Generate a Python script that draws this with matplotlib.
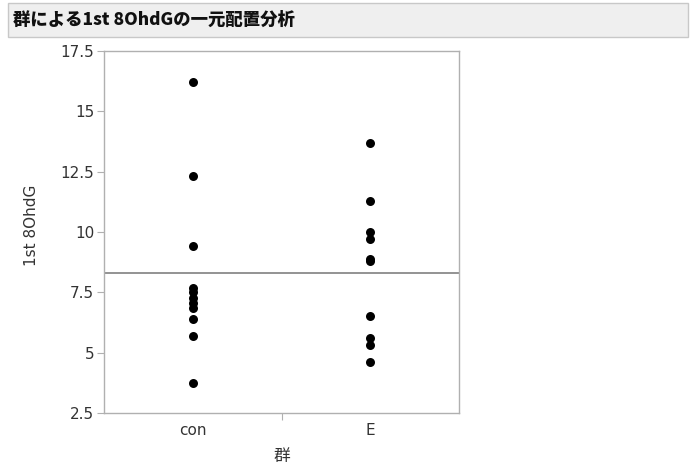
import matplotlib
matplotlib.use("Agg")
import matplotlib.pyplot as plt
from matplotlib.patches import Rectangle
import numpy as np

plt.rcParams['font.family'] = ['DejaVu Sans', 'Noto Sans CJK JP']

title = "群による1st 8OhdGの一元配置分析"
groups = ["con", "E"]
con_values = [16.2, 12.3, 9.4, 7.7, 7.5, 7.25, 7.05, 6.85, 6.4, 5.7, 3.75]
e_values = [13.7, 11.3, 10.0, 9.7, 8.9, 8.8, 6.5, 5.6, 5.3, 4.6]
y_ticks = [2.5, 5, 7.5, 10, 12.5, 15, 17.5]
y_tick_labels = ["2.5", "5", "7.5", "10", "12.5", "15", "17.5"]

W, H = 695, 470
fig = plt.figure(figsize=(W / 100, H / 100), dpi=100)

# header bar
fig.patches.append(Rectangle((8 / W, 1 - 37 / H), 680 / W, 34 / H,
                             transform=fig.transFigure, facecolor="#efefef",
                             edgecolor="#c8c8c8", linewidth=1.0))
fig.text(13 / W, 1 - 20 / H, title, fontsize=12.5, fontweight="heavy",
         family=['Noto Sans CJK JP', 'DejaVu Sans'], va="center", ha="left",
         color="#111111")

left, right, top, bottom = 104, 459, 51, 413
ax = fig.add_axes([left / W, 1 - bottom / H, (right - left) / W, (bottom - top) / H])

series = [con_values, e_values]
for i, vals in enumerate(series):
    ax.scatter(np.full(len(vals), i), vals, s=42, color="black", zorder=3, linewidths=0)

grand_mean = np.mean(con_values + e_values)
ax.axhline(grand_mean, color="#8a8a8a", linewidth=1.3, zorder=2)

label_color = "#333333"
fs = 11
ax.set_xlim(-0.5, 1.5)
ax.set_ylim(2.5, 17.5)
ax.set_yticks(y_ticks)
ax.set_yticklabels(y_tick_labels)
ax.set_xticks(range(len(groups)))
ax.set_xticklabels(groups)
ax.set_xticks([0.5], minor=True)
ax.tick_params(axis="x", which="major", length=0, pad=7, labelsize=fs, labelcolor=label_color)
ax.tick_params(axis="x", which="minor", length=5, color="#b0b0b0", width=0.8)
ax.tick_params(axis="y", length=5, color="#b0b0b0", width=0.8, labelsize=fs,
               labelcolor=label_color, pad=2)

for s in ax.spines.values():
    s.set_color("#b0b0b0")
    s.set_linewidth(1.0)

fig.text(31 / W, 1 - 225 / H, "1st 8OhdG", rotation=90, fontsize=fs,
         color=label_color, ha="center", va="center")
fig.text(282 / W, 1 - 457 / H, "群", fontsize=12, color=label_color,
         family=['Noto Sans CJK JP', 'DejaVu Sans'], ha="center", va="center")

fig.savefig("out.png", dpi=100)
